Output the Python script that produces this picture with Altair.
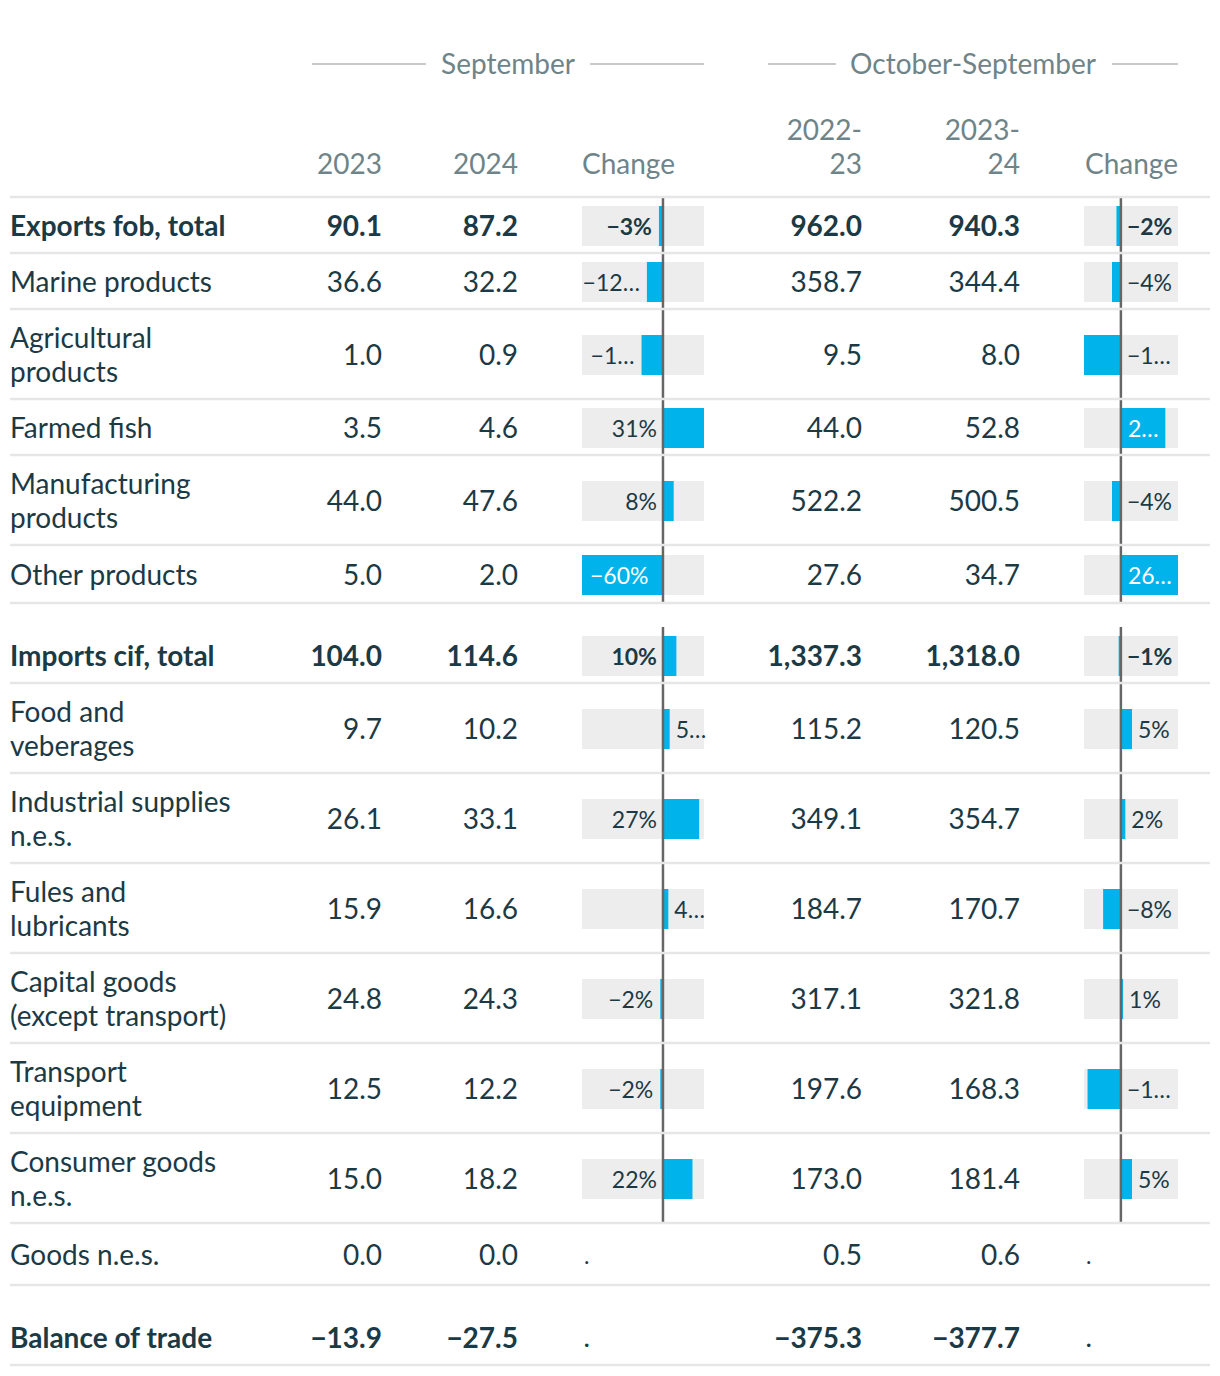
import altair as alt
import pandas as pd

# ---------------- data ----------------
row_labels = [
    "Exports fob, total", "Marine products", "Agricultural\nproducts", "Farmed fish",
    "Manufacturing\nproducts", "Other products", "Imports cif, total", "Food and\nveberages",
    "Industrial supplies\nn.e.s.", "Fules and\nlubricants", "Capital goods\n(except transport)",
    "Transport\nequipment", "Consumer goods\nn.e.s.", "Goods n.e.s.", "Balance of trade",
]
bold_rows = ["Exports fob, total", "Imports cif, total", "Balance of trade"]

sep_2023 = [90.1, 36.6, 1.0, 3.5, 44.0, 5.0, 104.0, 9.7, 26.1, 15.9, 24.8, 12.5, 15.0, 0.0, -13.9]
sep_2024 = [87.2, 32.2, 0.9, 4.6, 47.6, 2.0, 114.6, 10.2, 33.1, 16.6, 24.3, 12.2, 18.2, 0.0, -27.5]
sep_change = [-3, -12, -16, 30.6, 8, -60.4, 10, 5, 27, 4, -2, -2, 22, None, None]
sep_change_labels = ["−3%", "−12…", "−1…", "31%", "8%", "−60%", "10%", "5…", "27%", "4…",
                     "−2%", "−2%", "22%", ".", "."]

oct_2022_23 = [962.0, 358.7, 9.5, 44.0, 522.2, 27.6, 1337.3, 115.2, 349.1, 184.7, 317.1, 197.6, 173.0, 0.5, -375.3]
oct_2023_24 = [940.3, 344.4, 8.0, 52.8, 500.5, 34.7, 1318.0, 120.5, 354.7, 170.7, 321.8, 168.3, 181.4, 0.6, -377.7]
oct_change = [-2, -4, -16.6, 20, -4, 25.7, -1, 5, 2, -8, 1, -15, 5, None, None]
oct_change_labels = ["−2%", "−4%", "−1…", "2…", "−4%", "26…", "−1%", "5%", "2%", "−8%",
                     "1%", "−1…", "5%", ".", "."]

group_headers = ["September", "October-September"]
column_headers = ["2023", "2024", "Change", "2022-\n23", "2023-\n24", "Change"]

# ---------------- style / layout ----------------
FONT = "Lato"
TEXT = "#1b3a45"
HEAD = "#6f8489"
BLUE = "#00b4eb"
BG = "#ededed"
SEPC = "#e6e6e6"
ZERO = "#666666"
HLINE = "#c9c9c9"
FS = 28
LFS = 23
OFF = 8
W, H = 1204, 1360

LINE_H = 34
ROW_PAD = 22
BAR_H = 40
HEADER_LINE_Y = 197
GAP_BEFORE = {"Imports cif, total": 24, "Balance of trade": 24}
EXTRA = {"Other products": 2, "Goods n.e.s.": 6}
TEXT_NUDGE = 2.5

TABLE_X = (10, 1210)
LABEL_X = 10
NUM_RIGHT = [382, 518, 862, 1020]
SEP_BAR = (582, 704)
OCT_BAR = (1084, 1178)


def px(v):
    return v - OFF


def fmt(v):
    return f"{v:,.1f}".replace("-", "\u2212")


smin, smax = min(v for v in sep_change if v is not None), max(v for v in sep_change if v is not None)
omin, omax = min(v for v in oct_change if v is not None), max(v for v in oct_change if v is not None)


def sep_pos(v):
    if v is None:
        return "dot"
    w = SEP_BAR[1] - SEP_BAR[0]
    if v < 0:
        return "inside_start" if abs(v) >= 0.9 * abs(smin) else "before_bar"
    space_right = (smax - v) / (smax - smin) * w
    return "after_bar" if space_right >= 32 else "before_zero"


def oct_pos(v):
    if v is None:
        return "dot"
    w = OCT_BAR[1] - OCT_BAR[0]
    if v < 0:
        return "after_zero"
    barw = v / (omax - omin) * w
    return "inside_zero" if barw >= 40 else "after_bar"


recs = []
y = HEADER_LINE_Y
for i, lab in enumerate(row_labels):
    y += GAP_BEFORE.get(lab, 0)
    n = lab.count("\n") + 1
    h = ROW_PAD + LINE_H * n + EXTRA.get(lab, 0)
    top, bot = y, y + h
    mid = (top + bot) / 2 + TEXT_NUDGE
    recs.append(dict(
        label=lab, weight="bold" if lab in bold_rows else "normal",
        top=top, bot=bot, mid=mid, ty=mid - (n - 1) * LINE_H / 2,
        btop=(top + bot) / 2 - BAR_H / 2 + 1, bbot=(top + bot) / 2 + BAR_H / 2 + 1,
        s23=fmt(sep_2023[i]), s24=fmt(sep_2024[i]),
        o1=fmt(oct_2022_23[i]), o2=fmt(oct_2023_24[i]),
        sv=sep_change[i], sl=sep_change_labels[i], sp=sep_pos(sep_change[i]),
        ov=oct_change[i], ol=oct_change_labels[i], op=oct_pos(oct_change[i]),
    ))
    y = bot

df = pd.DataFrame(recs)

YS = alt.Scale(domain=[OFF, OFF + H], reverse=True, nice=False, zero=False)
base = alt.Chart(df)


def Yf(field):
    return alt.Y(f"{field}:Q", scale=YS, axis=None)


# ---------------- plain text columns ----------------
text_layers = []
cols = [("label", LABEL_X, "left", "ty")] + [
    (f, x, "right", "mid") for f, x in zip(["s23", "s24", "o1", "o2"], NUM_RIGHT)
]
for field, xp, align, yf in cols:
    for wt in ["bold", "normal"]:
        text_layers.append(
            base.transform_filter(alt.datum.weight == wt).mark_text(
                align=align, baseline="middle", font=FONT, fontSize=FS, fontWeight=wt,
                color=TEXT, lineBreak="\n", lineHeight=LINE_H,
            ).encode(x=alt.value(px(xp)), y=Yf(yf), text=f"{field}:N")
        )


# ---------------- bar columns ----------------
def bar_column(vf, lf, pf, lo, hi, bar_px):
    xs = alt.Scale(domain=[lo, hi], range=[px(bar_px[0]), px(bar_px[1])], nice=False, zero=False)
    has = base.transform_filter(alt.datum[pf] != "dot")
    bg = has.mark_rect(color=BG).encode(
        x=alt.XDatum(lo, scale=xs, axis=None), x2=alt.X2Datum(hi),
        y=Yf("btop"), y2="bbot:Q",
    )
    bars = has.mark_rect(color=BLUE).encode(
        x=alt.X(f"{vf}:Q", scale=xs, axis=None), x2=alt.X2Datum(0),
        y=Yf("btop"), y2="bbot:Q",
    )
    zero = has.mark_rule(color=ZERO, strokeWidth=2.5).encode(
        x=alt.XDatum(0, scale=xs, axis=None),
        y=Yf("top"), y2="bot:Q",
    )
    specs = [
        ("inside_start", alt.XDatum(lo, scale=xs, axis=None), "left", 8, "white"),
        ("before_bar", alt.X(f"{vf}:Q", scale=xs, axis=None), "right", -7, TEXT),
        ("after_bar", alt.X(f"{vf}:Q", scale=xs, axis=None), "left", 6, TEXT),
        ("before_zero", alt.XDatum(0, scale=xs, axis=None), "right", -6, TEXT),
        ("after_zero", alt.XDatum(0, scale=xs, axis=None), "left", 6, TEXT),
        ("inside_zero", alt.XDatum(0, scale=xs, axis=None), "left", 7, "white"),
        ("dot", alt.XDatum(lo, scale=xs, axis=None), "left", 2, TEXT),
    ]
    labs = []
    for pos, xenc, align, dx, col in specs:
        for wt in ["bold", "normal"]:
            labs.append(
                base.transform_filter((alt.datum[pf] == pos) & (alt.datum.weight == wt)).mark_text(
                    align=align, baseline="middle", dx=dx, font=FONT, fontSize=LFS,
                    fontWeight=wt, color=col,
                ).encode(x=xenc, y=Yf("mid"), text=f"{lf}:N")
            )
    return alt.layer(bg, bars, zero, *labs)


sep_col = bar_column("sv", "sl", "sp", smin, smax, SEP_BAR)
oct_col = bar_column("ov", "ol", "op", omin, omax, OCT_BAR)

# ---------------- separators ----------------
seps = base.mark_rule(color=SEPC, strokeWidth=2.5).encode(
    x=alt.value(px(TABLE_X[0])), x2=alt.value(px(TABLE_X[1])),
    y=Yf("bot"),
)
one = pd.DataFrame({"k": [0]})
head_sep = alt.Chart(one).mark_rule(color=SEPC, strokeWidth=2.5).encode(
    x=alt.value(px(TABLE_X[0])), x2=alt.value(px(TABLE_X[1])),
    y=alt.YDatum(HEADER_LINE_Y, scale=YS, axis=None),
)

# ---------------- headers ----------------
hdr_layers = []
GROUP_Y = 66
group_specs = [
    (group_headers[0], 508, [(312, 426), (590, 704)]),
    (group_headers[1], 973, [(768, 836), (1112, 1178)]),
]
for txt, cx, segs in group_specs:
    hdr_layers.append(
        alt.Chart(pd.DataFrame({"t": [txt]})).mark_text(
            align="center", baseline="middle", font=FONT, fontSize=FS, color=HEAD,
        ).encode(x=alt.value(px(cx)), y=alt.YDatum(GROUP_Y, scale=YS, axis=None), text="t:N")
    )
    for a, b in segs:
        hdr_layers.append(
            alt.Chart(one).mark_rule(color=HLINE, strokeWidth=2).encode(
                x=alt.value(px(a)), x2=alt.value(px(b)),
                y=alt.YDatum(64, scale=YS, axis=None),
            )
        )

COL_Y = 166
col_specs = [
    (column_headers[0], 382, "right"),
    (column_headers[1], 518, "right"),
    (column_headers[2], 582, "left"),
    (column_headers[3], 862, "right"),
    (column_headers[4], 1020, "right"),
    (column_headers[5], 1085, "left"),
]
for txt, xp, align in col_specs:
    n = txt.count("\n") + 1
    yc = COL_Y - (n - 1) * LINE_H
    hdr_layers.append(
        alt.Chart(pd.DataFrame({"t": [txt]})).mark_text(
            align=align, baseline="middle", font=FONT, fontSize=FS, color=HEAD,
            lineBreak="\n", lineHeight=LINE_H,
        ).encode(x=alt.value(px(xp)), y=alt.YDatum(yc, scale=YS, axis=None), text="t:N")
    )

chart = alt.layer(
    sep_col, oct_col, seps, head_sep, *hdr_layers, *text_layers
).resolve_scale(x="independent").properties(
    width=W, height=H, padding=0, autosize=alt.AutoSizeParams(type="none"),
    background="white",
).configure_view(stroke=None)

chart.save("out.html", embed_options={"renderer": "svg", "actions": False})
